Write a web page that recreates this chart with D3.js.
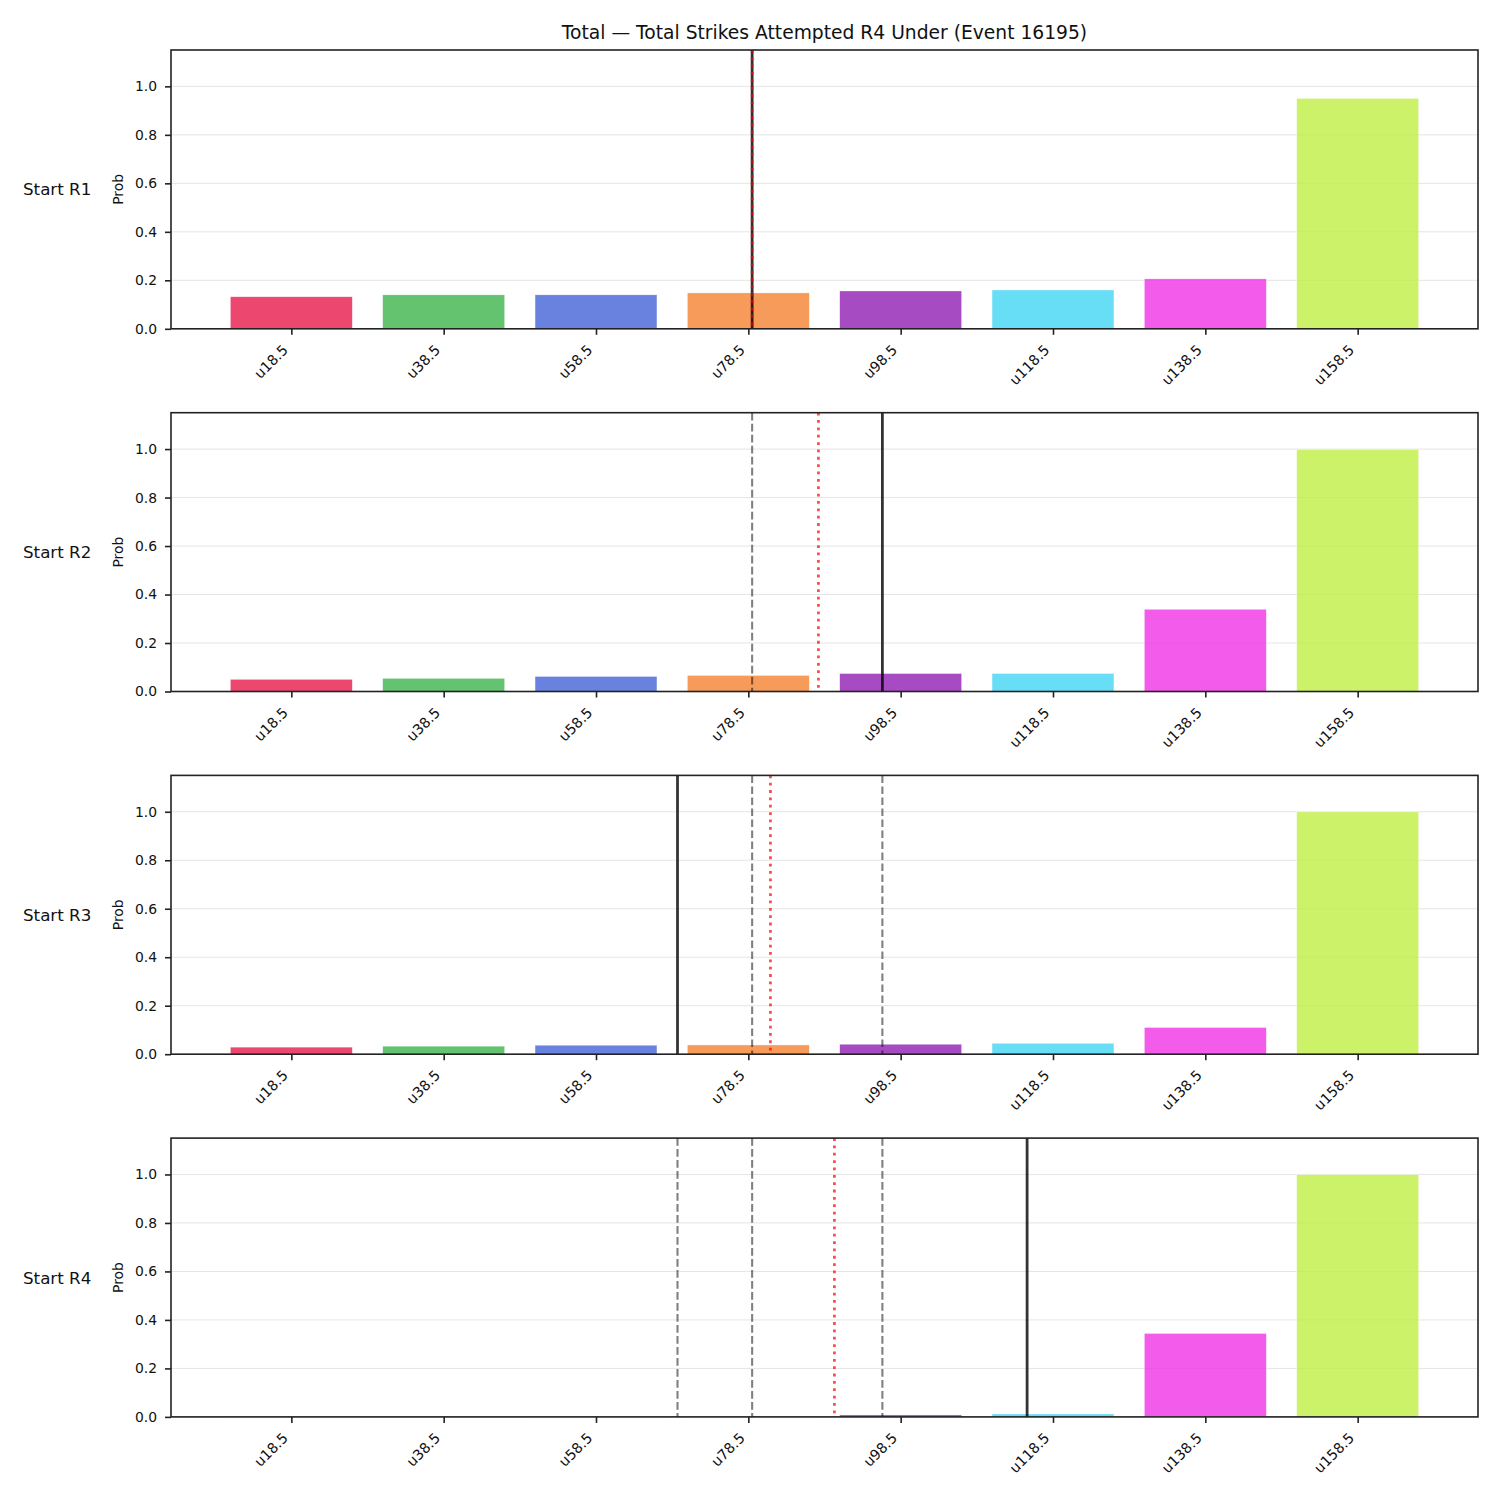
<!DOCTYPE html>
<html>
<head>
<meta charset="utf-8">
<script src="https://cdn.jsdelivr.net/npm/d3@7/dist/d3.min.js"></script>
<style>
  body { margin: 0; background: #fff; }
  text { font-family: "DejaVu Sans", sans-serif; fill: #111; }
</style>
</head>
<body>
<div id="corpo"></div>
<script>
// lines (u-thresholds) and bar heights per starting round
var categories = ["u18.5", "u38.5", "u58.5", "u78.5", "u98.5", "u118.5", "u138.5", "u158.5"];
var thresholds = [18.5, 38.5, 58.5, 78.5, 98.5, 118.5, 138.5, 158.5];
var rounds = ["Start R1", "Start R2", "Start R3", "Start R4"];

var probR1 = [0.132, 0.140, 0.140, 0.148, 0.156, 0.160, 0.206, 0.950];
var probR2 = [0.050, 0.054, 0.062, 0.066, 0.074, 0.074, 0.339, 0.998];
var probR3 = [0.029, 0.033, 0.037, 0.038, 0.041, 0.045, 0.110, 0.999];
var probR4 = [0.0005, 0.0005, 0.001, 0.002, 0.008, 0.012, 0.344, 0.999];

// current line (black), previous lines (grey dashed), red dotted marker
var currentLine = [79.0, 96.1, 69.2, 115.1];
var previousLines = [[], [79.0], [79.0, 96.1], [69.2, 79.0, 96.1]];
var markerLine = [79.0, 87.7, 81.4, 89.8];

var yTicks = [0.0, 0.2, 0.4, 0.6, 0.8, 1.0];
var colors = ["#e6194b", "#3cb44b", "#4363d8", "#f58231", "#911eb4", "#42d4f4", "#f032e6", "#bfef45"];

var probs = [probR1, probR2, probR3, probR4];
var title = "Total \u2014 Total Strikes Attempted R4 Under (Event 16195)";

var width = 1500, height = 1500;
var left = 171, right = 1478;
var panelTop = 50, panelStep = 362.7, panelH = 278.8;

var svg = d3.select("#corpo").append("svg")
    .attr("width", width)
    .attr("height", height);

svg.append("text")
    .attr("x", (left + right) / 2)
    .attr("y", 39)
    .attr("text-anchor", "middle")
    .style("font-size", "18.7px")
    .text(title);

// bar width 16 units (0.8 of a 20 step), margin 0.05 of range
var x = d3.scaleLinear()
    .domain([18.5 - 0.79 * 20, 158.5 + 0.79 * 20])
    .range([left, right]);
var barW = x(16) - x(0);

rounds.forEach(function(name, r) {
    var top = panelTop + r * panelStep;
    var bottom = top + panelH;
    var y = d3.scaleLinear().domain([0, 1.15]).range([bottom, top]);
    var g = svg.append("g");

    // grid
    g.selectAll(".grid")
        .data(yTicks)
        .enter().append("line")
        .attr("x1", left).attr("x2", right)
        .attr("y1", function(d) { return y(d); })
        .attr("y2", function(d) { return y(d); })
        .style("stroke", "#e5e5e5")
        .style("stroke-width", 1);

    // bars
    var rows = probs[r].map(function(v, i) { return { t: thresholds[i], v: v, c: colors[i] }; });
    g.selectAll(".bar")
        .data(rows)
        .enter().append("rect")
        .attr("x", function(d) { return x(d.t) - barW / 2; })
        .attr("width", barW)
        .attr("y", function(d) { return y(d.v); })
        .attr("height", function(d) { return y(0) - y(d.v); })
        .style("fill", function(d) { return d.c; })
        .style("fill-opacity", 0.8)
        .style("stroke", "rgba(255,255,255,0.6)")
        .style("stroke-width", 0.5);

    // previous lines
    g.selectAll(".prev")
        .data(previousLines[r])
        .enter().append("line")
        .attr("x1", function(d) { return x(d); })
        .attr("x2", function(d) { return x(d); })
        .attr("y1", top).attr("y2", bottom)
        .style("stroke", "rgba(0,0,0,0.5)")
        .style("stroke-width", 2.08)
        .style("stroke-dasharray", "7.7,3.3");

    g.append("line")
        .attr("x1", x(currentLine[r])).attr("x2", x(currentLine[r]))
        .attr("y1", top).attr("y2", bottom)
        .style("stroke", "rgba(0,0,0,0.8)")
        .style("stroke-width", 2.78);

    g.append("line")
        .attr("x1", x(markerLine[r])).attr("x2", x(markerLine[r]))
        .attr("y1", top).attr("y2", bottom)
        .style("stroke", "rgba(255,0,0,0.7)")
        .style("stroke-width", 2.78)
        .style("stroke-dasharray", "2.78,4.58");

    // frame
    g.append("rect")
        .attr("x", left).attr("y", top)
        .attr("width", right - left).attr("height", panelH)
        .style("fill", "none")
        .style("stroke", "#222")
        .style("stroke-width", 1.6);

    // y axis
    var yAxis = d3.axisLeft(y).tickValues(yTicks).tickSize(6).tickPadding(8)
        .tickFormat(d3.format(".1f"));
    var ya = g.append("g").attr("transform", "translate(" + left + ",0)").call(yAxis);
    ya.select(".domain").remove();
    ya.selectAll(".tick line").style("stroke", "#222").style("stroke-width", 1.6);
    ya.selectAll(".tick text").style("font-size", "13.9px").style("fill", "#111")
        .attr("font-family", "DejaVu Sans");

    // x axis
    var xAxis = d3.axisBottom(x).tickValues(thresholds).tickSize(6)
        .tickFormat(function(d, i) { return categories[i]; });
    var xa = g.append("g").attr("transform", "translate(0," + bottom + ")").call(xAxis);
    xa.select(".domain").remove();
    xa.selectAll(".tick line").style("stroke", "#222").style("stroke-width", 1.6);
    xa.selectAll(".tick text")
        .attr("y", null).attr("dy", null)
        .attr("text-anchor", "end")
        .attr("transform", "translate(-3,22) rotate(-45)")
        .style("font-size", "14.2px").style("fill", "#111")
        .attr("font-family", "DejaVu Sans");

    g.append("text")
        .attr("transform", "translate(122.5," + (top + panelH / 2) + ") rotate(-90)")
        .attr("text-anchor", "middle")
        .style("font-size", "13.9px")
        .text("Prob");

    g.append("text")
        .attr("x", 23)
        .attr("y", top + panelH / 2 + 6)
        .style("font-size", "16.7px")
        .text(name);
});
</script>
</body>
</html>
